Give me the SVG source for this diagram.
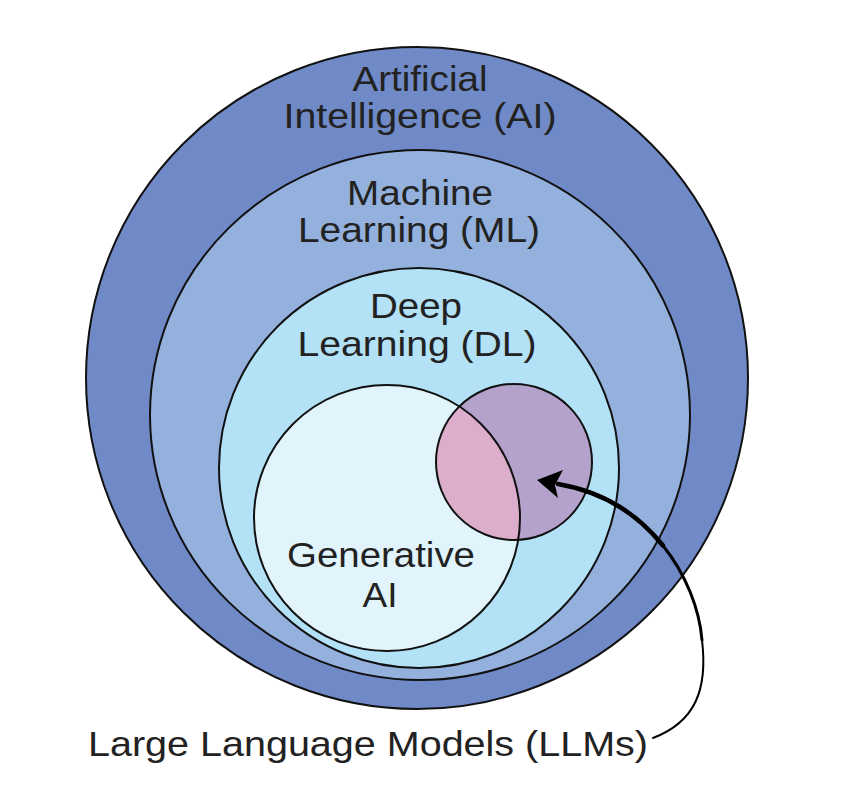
<svg xmlns="http://www.w3.org/2000/svg" width="849" height="786" viewBox="0 0 849 786">
<style>
.c{stroke:#111;stroke-width:2}
.t{font-family:"Liberation Sans",Arial,sans-serif;font-size:35px;fill:#222;text-anchor:middle}
.l{font-family:"Liberation Sans",Arial,sans-serif;font-size:35px;fill:#222}
.a{fill:none;stroke:#000;stroke-linecap:round}
</style>
<defs>
<clipPath id="genclip"><circle cx="387" cy="518" r="133"/></clipPath>
</defs>
<rect width="849" height="786" fill="#fff"/>
<g id="ai">
<circle class="c" cx="417" cy="378" r="331" fill="#6f8ac6"/>
<text class="t" x="420" y="91" textLength="135" lengthAdjust="spacingAndGlyphs">Artificial</text>
<text class="t" x="420" y="128" textLength="273" lengthAdjust="spacingAndGlyphs">Intelligence (AI)</text>
</g>
<g id="ml">
<ellipse class="c" cx="420" cy="415" rx="270" ry="265" fill="#94b1de"/>
<text class="t" x="420" y="205" textLength="146" lengthAdjust="spacingAndGlyphs">Machine</text>
<text class="t" x="419" y="242" textLength="242" lengthAdjust="spacingAndGlyphs">Learning (ML)</text>
</g>
<g id="dl">
<circle class="c" cx="419" cy="468" r="200" fill="#b3e1f6"/>
<text class="t" x="416" y="318" textLength="92" lengthAdjust="spacingAndGlyphs">Deep</text>
<text class="t" x="417" y="356" textLength="239" lengthAdjust="spacingAndGlyphs">Learning (DL)</text>
</g>
<g id="genai">
<circle cx="387" cy="518" r="133" fill="#e1f4fc"/>
<text class="t" x="381" y="567" textLength="188" lengthAdjust="spacingAndGlyphs">Generative</text>
<text class="t" x="380" y="607" textLength="35" lengthAdjust="spacingAndGlyphs">AI</text>
</g>
<g id="llm">
<circle cx="514" cy="462" r="78" fill="#b4a2cc"/>
<circle cx="514" cy="462" r="78" fill="#dcaecb" clip-path="url(#genclip)"/>
<circle class="c" cx="387" cy="518" r="133" fill="none"/>
<circle class="c" cx="514" cy="462" r="78" fill="none"/>
</g>
<g id="llm-label">
<text class="l" x="88" y="756" textLength="560" lengthAdjust="spacingAndGlyphs">Large Language Models (LLMs)</text>
</g>
<g id="connectors">
<path class="a" stroke-width="2" d="M653 738 C695 722,708 690,702 640"/>
<path class="a" stroke-width="3" d="M702 640 C699.5 610,686.5 575,662.9 545.5"/>
<path class="a" stroke-width="4.5" d="M662.9 545.5 C639.25 516,605 492,558 484"/>
<path d="M537 480 L563 470 L555 485 L558 498 Z" fill="#000"/>
</g>
</svg>
